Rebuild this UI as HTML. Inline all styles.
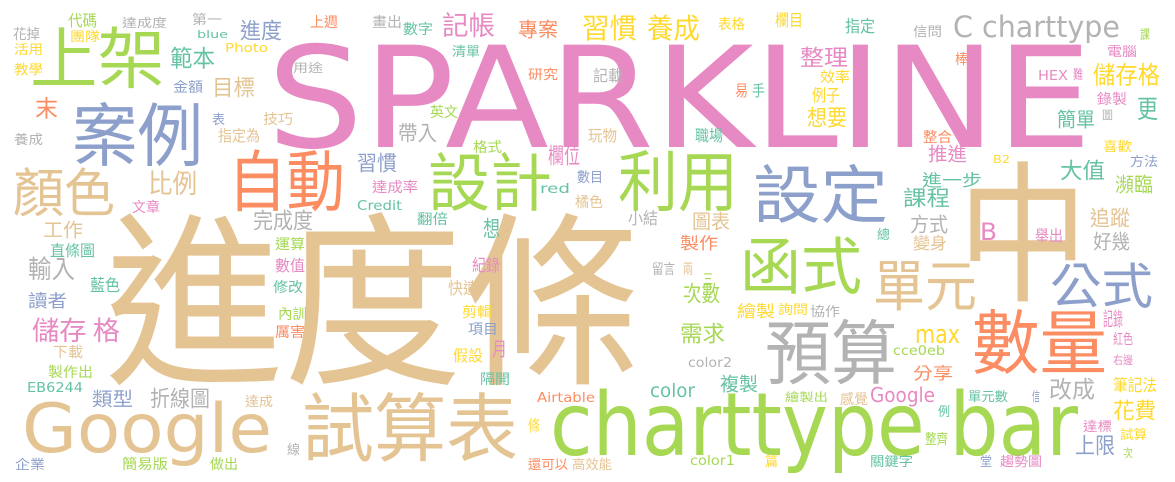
<!DOCTYPE html>
<html><head><meta charset="utf-8">
<style>
html,body{margin:0;padding:0;background:#fff;}
svg{display:block;}
</style></head>
<body>
<svg id="cloud" width="1175" height="482" viewBox="0 0 1175 482" xmlns="http://www.w3.org/2000/svg">
<rect width="1175" height="482" fill="#fff"/>
</svg>
<script>
const P="#e78ac3",T="#e5c494",G="#a6d854",O="#fc8d62",B="#8da0cb",Y="#ffd92f",Q="#66c2a5",R="#b3b3b3";
// [word, left, inkTop, right, inkBottom, color]
const words=[
["SPARKLINE",267,43,1092,147,P],
["進度條",105,215,641,383,T],
["中",958,163,1088,300,T],
["charttype bar",550,390,1078,455,G],
["Google",22,402,272,452,T],
["試算表",302,393,518,460,T],
["上架",30,27,165,87,G],
["案例",72,103,203,165,B],
["顏色",13,168,115,215,T],
["自動",228,150,345,210,O],
["設計",428,153,552,210,G],
["利用",618,150,738,210,G],
["設定",753,165,888,222,B],
["函式",740,237,862,293,G],
["單元",873,260,977,310,T],
["公式",1050,263,1153,307,B],
["數量",972,310,1107,373,O],
["預算",765,320,897,383,R],
["記帳",442,13,495,37,P],
["專案",518,20,558,38,O],
["習慣",582,15,637,40,Y],
["養成",647,15,700,40,Y],
["C charttype",953,15,1120,37,R],
["範本",170,47,215,68,Q],
["目標",212,77,255,97,T],
["末",35,97,58,118,O],
["比例",148,171,197,195,T],
["進度",240,20,282,40,B],
["整理",800,47,848,67,P],
["儲存格",1093,63,1160,85,Y],
["簡單",1057,110,1095,128,Q],
["更",1137,97,1158,120,Q],
["大值",1060,160,1105,180,Q],
["瀕臨",1115,175,1153,193,G],
["課程",903,188,950,207,Q],
["推進",928,145,967,162,P],
["進一步",922,172,982,187,Q],
["追蹤",1090,208,1130,227,T],
["想要",807,107,847,127,Y],
["帶入",398,123,437,142,R],
["欄位",548,145,580,165,P],
["完成度",253,210,313,230,R],
["工作",43,221,83,238,T],
["輸入",28,257,75,280,R],
["儲存 格",32,318,120,342,P],
["讀者",28,292,67,308,B],
["製作",680,235,718,250,O],
["次數",683,283,720,303,G],
["需求",680,323,725,343,G],
["複製",720,375,758,392,Q],
["color",650,383,695,397,Q],
["上限",1075,435,1115,455,B],
["花費",1113,400,1156,420,Y],
["類型",92,390,133,407,B],
["折線圖",150,388,210,408,R],
["改成",1049,378,1095,399,R],
["max",915,329,960,343,Y],
["分享",913,365,953,380,O],
["Google",870,387,935,402,P],
["月",492,340,507,357,P],
["想",483,218,500,238,Q],
["B",980,222,997,240,P],
["圖表",692,212,730,230,T],
["花掉",13,27,40,40,R],["代碼",68,13,97,27,G],["達成度",122,17,167,28,R],["第一",192,13,222,25,R],
["團隊",70,30,100,42,Y],["blue",197,30,228,38,Q],["活用",14,43,43,55,Y],["Photo",225,43,268,52,Y],
["教學",14,63,43,75,Y],["金額",173,80,203,93,B],["表",212,113,225,125,B],["指定為",218,128,260,142,T],
["養成",14,133,43,145,R],["上週",310,15,338,28,O],["畫出",372,15,402,28,R],["數字",403,22,433,35,Q],
["清單",452,45,480,57,Q],["用途",293,62,323,73,R],["研究",528,68,558,80,O],["技巧",263,112,293,125,T],
["英文",430,105,458,118,G],["格式",473,140,502,153,G],["習慣",357,153,397,172,B],["達成率",372,180,418,193,P],
["red",540,183,570,193,Q],["Credit",357,200,402,210,Q],["翻倍",417,212,448,225,Q],["運算",275,237,305,250,G],
["表格",718,17,745,30,Y],["欄目",775,12,803,27,Y],["指定",845,18,875,33,Q],["記載",593,68,623,82,R],
["效率",820,70,850,83,Y],["易",735,83,748,97,O],["手",752,83,765,97,Q],["例子",812,87,840,102,Y],
["玩物",588,128,617,142,T],["職場",695,128,723,142,Q],["數目",577,170,603,183,B],["橘色",575,195,603,208,T],
["小結",628,210,658,225,R],["總",877,228,890,240,Q],
["信問",913,25,942,37,R],["課",1140,28,1150,40,G],["電腦",1107,45,1137,57,P],["棒",955,52,968,65,O],
["HEX",1038,70,1068,80,P],["難",1073,68,1083,80,P],["錄製",1097,92,1127,105,P],["圖",1102,110,1113,120,R],
["整合",923,130,952,143,O],["喜歡",1103,140,1132,152,Y],["B2",993,155,1010,163,Y],["方法",1130,155,1158,167,B],
["方式",910,215,948,233,R],["舉出",1035,228,1063,242,P],["好幾",1093,232,1130,250,R],["變身",913,235,947,250,T],
["文章",132,200,160,213,P],["直條圖",50,243,95,257,Q],["藍色",90,277,120,292,Q],["下載",53,345,83,358,T],
["製作出",48,365,93,378,G],["EB6244",27,382,83,392,Q],["達成",245,395,273,407,T],["線",287,443,300,455,R],
["企業",15,458,45,470,B],["簡易版",122,457,168,470,G],["做出",210,457,238,470,G],
["數值",275,258,305,272,P],["修改",273,280,303,293,Q],["內訓",278,307,307,320,G],["厲害",275,325,305,338,O],
["紀錄",472,257,500,272,P],["快速",448,280,478,295,T],["剪輯",462,305,492,318,Y],["項目",468,322,498,335,B],
["假設",453,348,483,362,Y],["隔開",480,372,510,385,Q],["Airtable",537,392,595,402,O],["條",528,418,540,432,Y],
["還可以",528,458,568,470,O],["高效能",572,458,612,470,T],
["留言",652,262,675,275,R],["兩",683,262,693,275,T],["三",703,272,713,285,G],["繪製",737,303,775,318,Y],
["詢問",778,303,808,315,Y],["協作",810,305,840,317,R],["cce0eb",893,345,945,355,G],["color2",688,357,732,367,R],
["記錄",1103,310,1123,327,P],["紅色",1113,332,1133,345,P],["右邊",1113,355,1133,365,P],["繪製出",785,392,828,402,G],
["感覺",840,392,868,405,T],["單元數",968,390,1008,402,Q],["信",1032,390,1040,402,B],["筆記法",1113,377,1157,392,Y],
["例",938,405,950,417,Q],["整齊",925,432,948,445,G],["達標",1083,420,1112,432,P],["試算",1120,428,1147,440,Y],
["次",1123,448,1133,458,G],["color1",690,455,735,465,G],["篇",765,455,778,467,Y],["關鍵字",870,455,913,467,Q],
["堂",980,455,992,467,B],["趨勢圖",1000,455,1042,467,P]
];
const svg=document.getElementById('cloud');
const NS="http://www.w3.org/2000/svg";
function isLatin(s){return /^[\x00-\x7f]+$/.test(s);}
function add(w,x1,y1,x2,y2,c){
  const t=document.createElementNS(NS,'text');
  const lat=isLatin(w);
  const h=y2-y1;
  let fs,base;
  if(lat){
    const xh=/^[acemnorsuvwxz]+$/.test(w);
    const f=xh?0.55:0.74;
    fs=h/f; base=y1+f*fs;
    t.setAttribute('style','font-family:"DejaVu Sans","Liberation Sans",sans-serif');
  }else{
    fs=h/0.9; base=y1+0.83*fs;
    t.setAttribute('style','font-family:"Noto Sans CJK TC","Noto Sans CJK SC",sans-serif');
  }
  t.setAttribute('x',x1);
  t.setAttribute('y',base.toFixed(1));
  t.setAttribute('font-size',fs.toFixed(1));
  t.setAttribute('fill',c);
  t.setAttribute('textLength',x2-x1);
  t.setAttribute('lengthAdjust','spacingAndGlyphs');
  t.textContent=w;
  
  
  svg.appendChild(t);
}
words.forEach(r=>add(r[0],r[1],r[2],r[3],r[4],r[5]));
</script>
</body></html>
